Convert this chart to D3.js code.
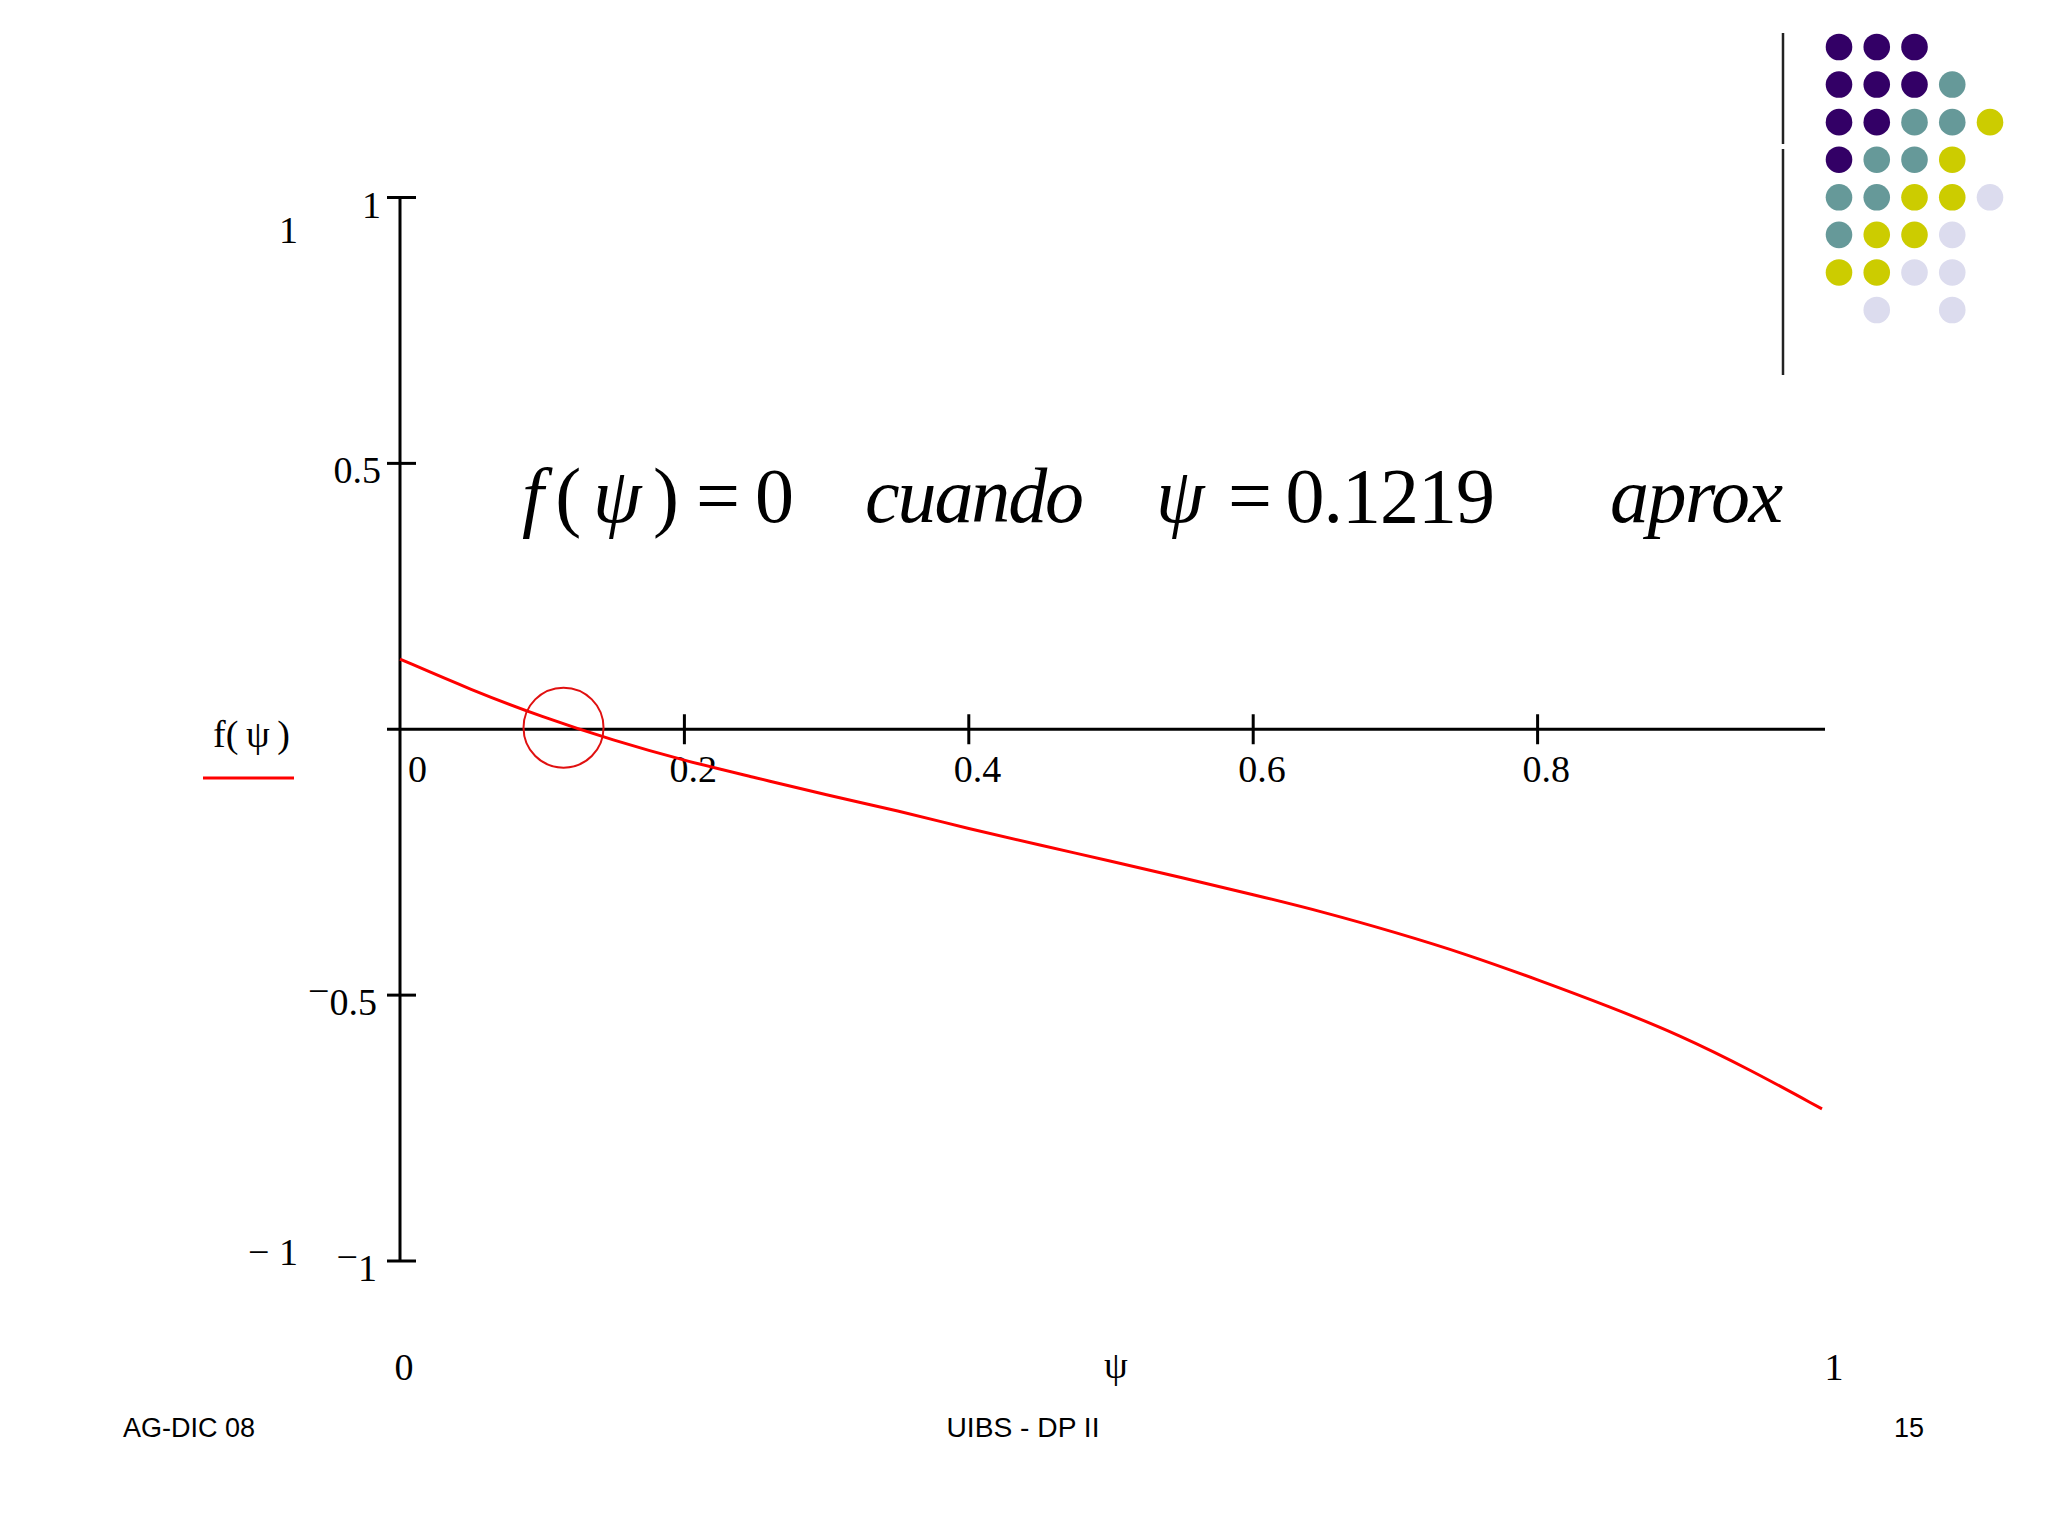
<!DOCTYPE html>
<html>
<head>
<meta charset="utf-8">
<script src="https://cdn.jsdelivr.net/npm/d3@7"></script>
<style>
  body { margin: 0; background: #fff; }
  svg { display: block; }
  text { font-family: "Liberation Serif", "Times New Roman", serif; fill: #000; }
  .foot { font-family: "Liberation Sans", Arial, sans-serif; }
</style>
</head>
<body>
<svg id="chart" width="2048" height="1536"></svg>
<script>
// curve f(psi)
var psiValues = [0, 0.05, 0.10, 0.15, 0.20, 0.25, 0.30, 0.35, 0.40, 0.45, 0.50,
                 0.55, 0.60, 0.65, 0.70, 0.75, 0.80, 0.85, 0.90, 0.95, 1.00];
var fValues = [0.132, 0.074, 0.023, -0.021, -0.059, -0.091, -0.124, -0.153, -0.187, -0.218, -0.248,
               -0.279, -0.311, -0.344, -0.382, -0.423, -0.471, -0.521, -0.575, -0.641, -0.714];

var xTicks = [0.2, 0.4, 0.6, 0.8];
var yTicks = [1, 0.5, -0.5, -1];
var rootPsi = 0.1219;
var circlePsi = 0.115;

// slide logo (rows of dot colours, "" = empty)
var logoRows = [
  ["P", "P", "P", "", ""],
  ["P", "P", "P", "T", ""],
  ["P", "P", "T", "T", "Y"],
  ["P", "T", "T", "Y", ""],
  ["T", "T", "Y", "Y", "L"],
  ["T", "Y", "Y", "L", ""],
  ["Y", "Y", "L", "L", ""],
  ["", "L", "", "L", ""]
];
var logoColors = {P: "#330066", T: "#669999", Y: "#cccc00", L: "#dcdcee"};

var svg = d3.select("#chart");

// scales
var x = d3.scaleLinear().domain([0, 1]).range([400, 1822]);
var y = d3.scaleLinear().domain([-1, 1]).range([1261, 197.5]);

// axes
var axes = svg.append("g").attr("stroke", "#000").attr("stroke-width", 3);
axes.append("line")
    .attr("x1", x(0) - 13).attr("x2", 1825)
    .attr("y1", y(0)).attr("y2", y(0));
axes.append("line")
    .attr("x1", x(0)).attr("x2", x(0))
    .attr("y1", y(1)).attr("y2", y(-1));

axes.selectAll(".yt")
    .data(yTicks)
    .enter().append("line")
    .attr("x1", x(0) - 13).attr("x2", x(0) + 16)
    .attr("y1", function(d) { return y(d); })
    .attr("y2", function(d) { return y(d); });

axes.selectAll(".xt")
    .data(xTicks)
    .enter().append("line")
    .attr("x1", function(d) { return x(d); })
    .attr("x2", function(d) { return x(d); })
    .attr("y1", y(0) - 15).attr("y2", y(0) + 15);

// y tick labels (Mathcad style, raised minus)
yTicks.forEach(function(d) {
    var t = svg.append("text")
        .attr("x", d < 0 ? 377 : 381)
        .attr("y", y(d) + 20)
        .attr("text-anchor", "end")
        .style("font-size", "38px");
    if (d < 0) {
        t.append("tspan").attr("dy", -11).text("\u2212");
        t.append("tspan").attr("dy", 11).text(d === -1 ? "1" : "0.5");
    } else {
        t.text(d);
    }
});

// x tick labels
svg.append("text")
    .attr("x", x(0) + 8).attr("y", y(0) + 53)
    .style("font-size", "38px")
    .text("0");
svg.selectAll(".xl")
    .data(xTicks)
    .enter().append("text")
    .attr("x", function(d) { return x(d) - 15; })
    .attr("y", y(0) + 53)
    .style("font-size", "38px")
    .text(function(d) { return d; });

// outer range labels
svg.append("text").attr("x", 298).attr("y", 243).attr("text-anchor", "end")
    .style("font-size", "38px").text("1");
svg.append("text").attr("x", 298).attr("y", 1265).attr("text-anchor", "end")
    .style("font-size", "38px").text("\u2212 1");
svg.append("text").attr("x", 404).attr("y", 1380).attr("text-anchor", "middle")
    .style("font-size", "38px").text("0");
svg.append("text").attr("x", 1116).attr("y", 1378).attr("text-anchor", "middle")
    .style("font-size", "38px").text("\u03c8");
svg.append("text").attr("x", 1834).attr("y", 1380).attr("text-anchor", "middle")
    .style("font-size", "38px").text("1");

// legend
svg.append("text").attr("x", 213).attr("y", 747)
    .style("font-size", "38px").text("f(\u2009\u03c8\u2009)");
svg.append("line")
    .attr("x1", 203).attr("x2", 294).attr("y1", 778).attr("y2", 778)
    .attr("stroke", "#ff0000").attr("stroke-width", 3);

// the curve
var line = d3.line()
    .x(function(d) { return x(d[0]); })
    .y(function(d) { return y(d[1]); })
    .curve(d3.curveBasis);

svg.append("path")
    .datum(d3.zip(psiValues, fValues))
    .attr("d", line)
    .attr("fill", "none")
    .attr("stroke", "#ff0000")
    .attr("stroke-width", 3);

// circle round the root
svg.append("circle")
    .attr("cx", x(circlePsi)).attr("cy", y(0.003))
    .attr("r", 40)
    .attr("fill", "none")
    .attr("stroke", "#e01010")
    .attr("stroke-width", 2);

// title formula
var title = [
  {x: 522, w: 157, parts: [["f", true], ["(", false], ["\u03c8", true], [")", false]]},
  {x: 696, w: 98, parts: [["=\u20090", false]]},
  {x: 865, w: 219, parts: [["cuando", true]]},
  {x: 1156, w: 43, parts: [["\u03c8", true]]},
  {x: 1228, w: 267, parts: [["=\u20090." + String(rootPsi).split(".")[1], false]]},
  {x: 1610, w: 173, parts: [["aprox", true]]}
];
title.forEach(function(seg) {
    var t = svg.append("text")
        .attr("x", seg.x).attr("y", 522)
        .attr("textLength", seg.w)
        .attr("lengthAdjust", "spacing")
        .style("font-size", "78px");
    seg.parts.forEach(function(p) {
        t.append("tspan")
            .style("font-style", p[1] ? "italic" : "normal")
            .text(p[0]);
    });
});

// logo
svg.append("g").attr("stroke", "#222").attr("stroke-width", 2.5)
    .selectAll("line")
    .data([[33, 144], [149, 375]])
    .enter().append("line")
    .attr("x1", 1783).attr("x2", 1783)
    .attr("y1", function(d) { return d[0]; })
    .attr("y2", function(d) { return d[1]; });

var lx = d3.scaleLinear().domain([0, 4]).range([1839, 1990]);
var ly = d3.scaleLinear().domain([0, 7]).range([47, 310]);
logoRows.forEach(function(row, r) {
    row.forEach(function(c, i) {
        if (!c) return;
        svg.append("circle")
            .attr("cx", lx(i)).attr("cy", ly(r))
            .attr("r", 13.3)
            .attr("fill", logoColors[c]);
    });
});

// footer
svg.append("text").attr("class", "foot").attr("x", 123).attr("y", 1437)
    .style("font-size", "27px").text("AG-DIC 08");
svg.append("text").attr("class", "foot").attr("x", 1023).attr("y", 1437)
    .attr("text-anchor", "middle").attr("textLength", 153).attr("lengthAdjust", "spacingAndGlyphs")
    .style("font-size", "27px").text("UIBS - DP II");
svg.append("text").attr("class", "foot").attr("x", 1924).attr("y", 1437)
    .attr("text-anchor", "end")
    .style("font-size", "27px").text("15");
</script>
</body>
</html>
